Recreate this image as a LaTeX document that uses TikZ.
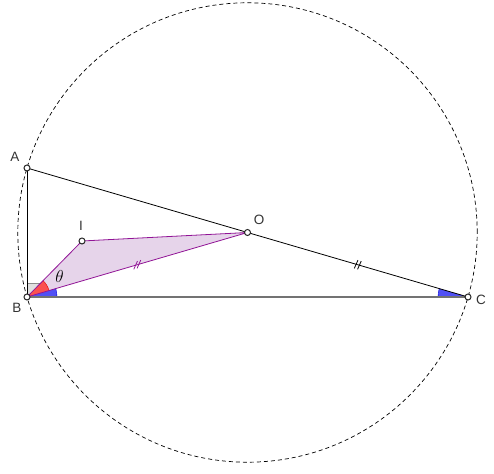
\documentclass[tikz,border=0pt]{standalone}
\usepackage{fontspec}
\setmainfont{Liberation Sans}
\usetikzlibrary{angles,calc}
\definecolor{pedge}{RGB}{145,20,150}
\definecolor{pfill}{RGB}{230,212,234}
\definecolor{ablue}{RGB}{80,80,245}
\definecolor{ared}{RGB}{250,80,80}
\begin{document}
\begin{tikzpicture}[x=1pt,y=1pt,
  pt/.style={circle,draw=black!85,fill=white,inner sep=0pt,minimum size=6pt,line width=1pt},
  lbl/.style={font=\fontsize{13.5}{15}\selectfont,text=black!80},
  seg/.style={line width=0.8pt},
  tick/.style={line width=0.8pt}]
\useasboundingbox (0,0) rectangle (494,473);
\coordinate (A) at (27,305);
\coordinate (B) at (27,176);
\coordinate (C) at (468,176);
\coordinate (O) at (247.5,240.5);
\coordinate (I) at (82,232);
% circle
\draw[line width=0.7pt,dash pattern=on 4pt off 3pt] (O) circle (229.7);
% right angle at B
\draw[fill=black!12,draw=black!45,line width=0.6pt] (B) rectangle ++(14,14);
% triangle BIO
\fill[pfill] (B) -- (I) -- (O) -- cycle;
% angles
\pic[draw=blue!85!black,fill=ablue,angle radius=30pt] {angle = C--B--O};
\pic[draw=red!90!black,fill=ared,angle radius=23pt] {angle = O--B--I};
\pic[draw=blue!85!black,fill=ablue,angle radius=30pt] {angle = A--C--B};
% sides
\draw[seg,draw=black!55,line width=1.2pt] (B) -- (C);
\draw[seg] (A) -- (B);
\draw[seg] (A) -- (C);
\draw[seg,draw=pedge] (B) -- (I) -- (O) -- cycle;
% ticks
\coordinate (M1) at ($(B)!0.5!(O)$);
\coordinate (M2) at ($(O)!0.5!(C)$);
\foreach \s in {-1.7,1.7}{
  \draw[tick,draw=pedge] ($($(M1)!\s pt!(O)$)+(66:4.5)$) -- ($($(M1)!\s pt!(O)$)+(246:4.5)$);
  \draw[tick] ($($(M2)!\s pt!(C)$)+(66:4.5)$) -- ($($(M2)!\s pt!(C)$)+(246:4.5)$);
}
% points
\node[pt] (pA) at (A) {};
\node[pt] (pB) at (B) {};
\node[pt] (pC) at (C) {};
\node[pt] (pO) at (O) {};
\node[pt] (pI) at (I) {};
% labels
\node[lbl] (lA) at (15,316) {A};
\node[lbl] (lB) at (17,165) {B};
\node[lbl] (lC) at (481,173) {C};
\node[lbl] (lO) at (259,253) {O};
\node[lbl] (lI) at (81,247) {I};
\node (th) at (59.5,196) {\fontsize{19}{21}\selectfont$\theta$};
\end{tikzpicture}
\end{document}
